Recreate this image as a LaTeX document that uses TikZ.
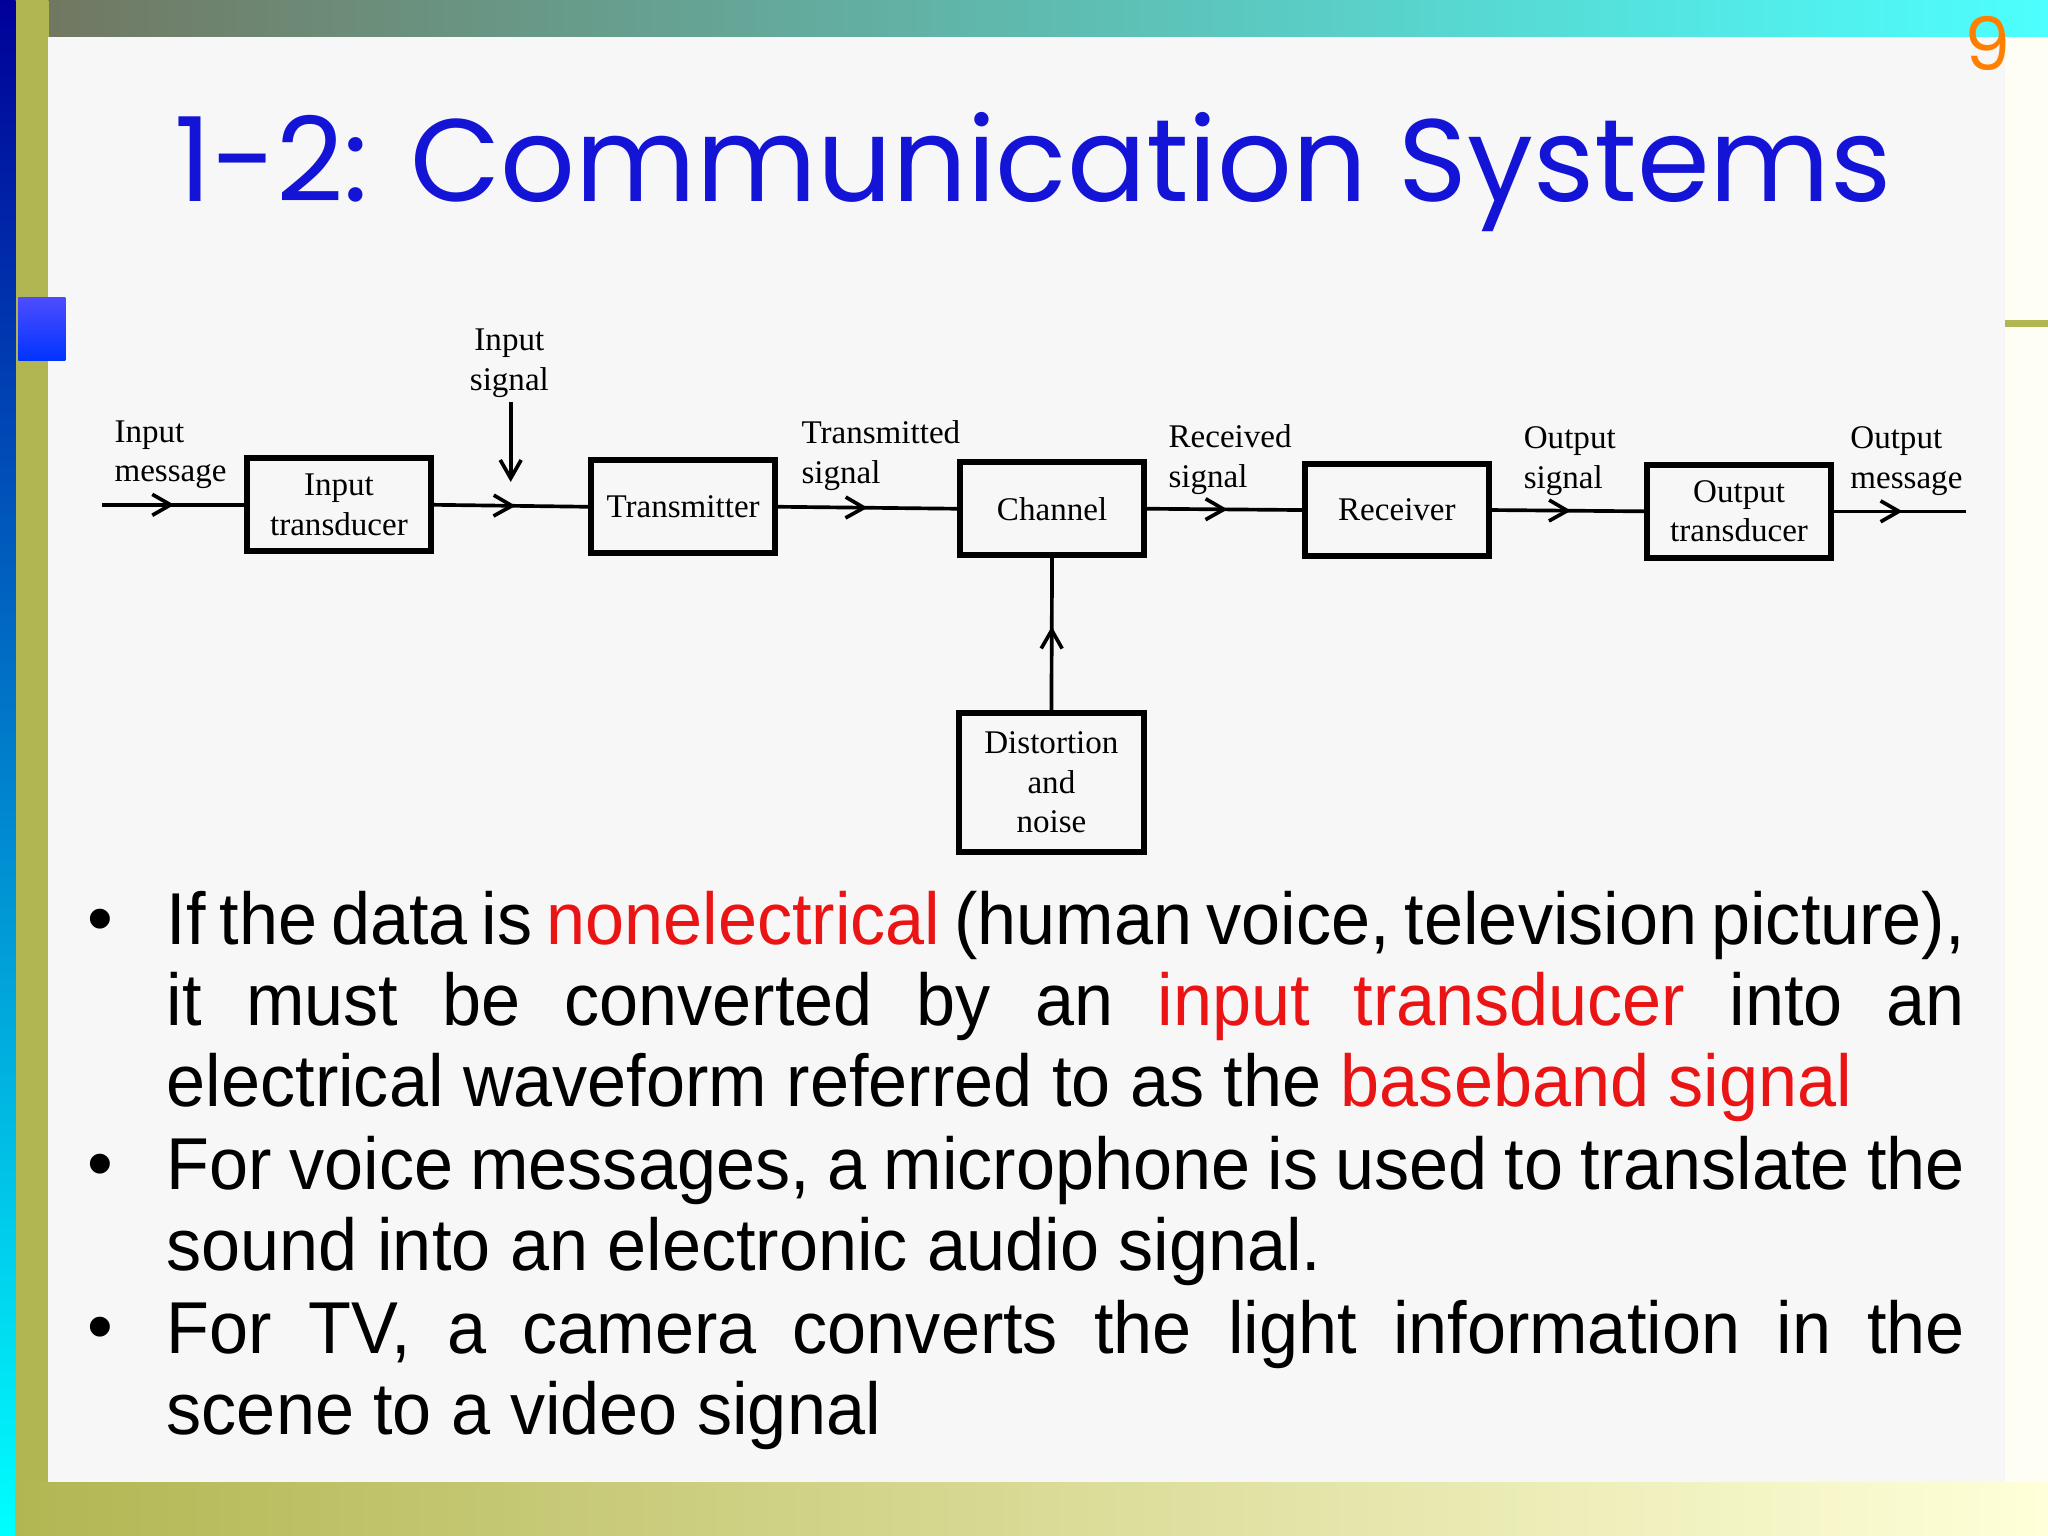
\documentclass[tikz,border=0pt]{standalone}
\usepackage{fontspec}
\setmainfont{Liberation Sans}
\newfontfamily\bodyfont[FakeStretch=0.955]{Liberation Sans}
\newfontfamily\titlefont{Poppins}
\newfontfamily\diafont{Liberation Serif}
\usetikzlibrary{decorations.markings,arrows.meta}
\definecolor{olive}{RGB}{178,182,82}
\definecolor{tblue}{RGB}{20,20,215}
\definecolor{hred}{RGB}{235,20,20}
\newcommand{\nohy}{\lefthyphenmin=62\relax\hyphenpenalty=10000\relax}
\begin{document}
\begin{tikzpicture}[x=0.01cm,y=-0.01cm,
  blk/.style={draw,line width=1.3pt,minimum width=1.41cm,minimum height=0.71cm,inner sep=0pt,align=center,font=\diafont\fontsize{7.2}{8.6}\selectfont},
  lbl/.style={align=left,inner sep=0pt,font=\diafont\fontsize{7.2}{8.6}\selectfont},
  wire/.style={line width=0.8pt},
  marr/.style={decoration={markings,mark=at position #1 with {\arrow{Straight Barb[length=1.4mm,width=1.6mm]}}},postaction={decorate}},
  btxt/.style={anchor=north west,inner sep=0pt,text width=13.76cm,align=justify,font=\bodyfont\fontsize{16}{17.6}\selectfont},
  bul/.style={anchor=base,inner sep=0pt,font=\fontsize{16}{17.6}\selectfont}]
\useasboundingbox (0,0) rectangle (1568,1176);
% background
\fill[white] (0,0) rectangle (1568,1176);
\shade[left color=olive!80!blue!80!black,right color=cyan!70] (0,0) rectangle (1568,28);
\shade[top color=olive,bottom color=olive] (0,0) rectangle (37,1176);
\shade[top color=blue!60!black,bottom color=cyan] (0,0) rectangle (12,1176);
\shade[left color=olive,right color=yellow!15] (12,1135) rectangle (1568,1176);
\fill[white!97!black] (37,28) rectangle (1535,1135);
\fill[white!96!yellow] (1535,28) rectangle (1568,1135);
\shade[top color=blue!70,bottom color=blue!80!cyan] (14,228) rectangle (50,276);
\draw[olive,line width=1.5pt] (1535,248) -- (1568,248);
\node[text=orange,font=\titlefont\fontsize{16}{18}\selectfont] (pg) at (1522,33) {9};
\node[text=tblue,font=\titlefont\fontsize{25.5}{28}\selectfont,inner sep=0pt] (title) at (791,132) {1-2: Communication Systems};
% diagram
\node[blk] (it) at (259.5,386.5) {Input\\transducer};
\node[blk] (tx) at (523,388) {Transmitter};
\node[blk] (ch) at (805.5,389.5) {Channel};
\node[blk] (rx) at (1069.5,390.5) {Receiver};
\node[blk] (ot) at (1331.5,391.5) {Output\\transducer};
\node[blk,minimum height=1.06cm] (dn) at (805,599) {Distortion\\and\\noise};
\coordinate (im) at (78,386.5);
\coordinate (om) at (1505,391.5);
\coordinate (is) at (391,308);
\coordinate (isb) at (391,369);
\draw[wire,marr=0.51] (im) -- (it.west);
\draw[wire,marr=0.53] (it.east) -- (tx.west);
\draw[wire,marr=0.5] (tx.east) -- (ch.west);
\draw[wire,marr=0.52] (ch.east) -- (rx.west);
\draw[wire,marr=0.52] (rx.east) -- (ot.west);
\draw[wire,marr=0.52] (ot.east) -- (om);
\draw[wire,-{Straight Barb[length=1.4mm,width=1.6mm]}] (is) -- (isb);
\draw[wire,marr=0.55] (dn.north) -- (ch.south);
\node[lbl,anchor=west] (l1) at (87,348) {Input\\message};
\node[lbl,align=center] (l2) at (390,278) {Input\\signal};
\node[lbl,anchor=west] (l3) at (613,349) {Transmitted\\signal};
\node[lbl,anchor=west] (l4) at (894,352) {Received\\signal};
\node[lbl,anchor=west] (l5) at (1166,353) {Output\\signal};
\node[lbl,anchor=west] (l6) at (1416,353) {Output\\message};
% bullets
\node[bul] (b1) at (77,722) {•};
\node[bul] (b2) at (77,910) {•};
\node[bul] (b3) at (77,1035) {•};
\node[btxt] (t1) at (127,679) {\nohy\strut If the data is \textcolor{hred}{nonelectrical} (human voice, television picture),\linebreak it must be converted by an \textcolor{hred}{input transducer} into an\linebreak electrical waveform referred to as the \textcolor{hred}{baseband signal}};
\node[btxt] (t2) at (127,867) {\nohy\strut For voice messages, a microphone is used to translate the\linebreak sound into an electronic audio signal.};
\node[btxt] (t3) at (127,992) {\nohy\strut For TV, a camera converts the light information in the\linebreak scene to a video signal};
\end{tikzpicture}
\end{document}
